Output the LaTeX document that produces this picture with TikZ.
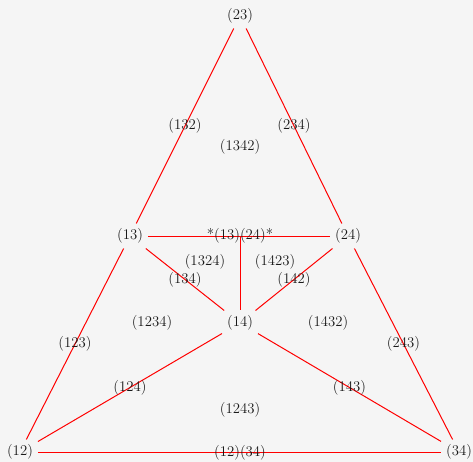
\documentclass[tikz,border=0pt]{standalone}
\usetikzlibrary{calc}
\definecolor{bgcol}{HTML}{F5F5F5}
\tikzset{
  perm/.style={font=\fontsize{14.8}{17}\selectfont, inner sep=4.9pt, text=black!90},
  link/.style={draw=red, line width=1pt},
}
\begin{document}
\begin{tikzpicture}[x=1pt, y=-1pt]
  \fill[bgcol] (0,0) rectangle (473,462);
  \useasboundingbox (0,0) rectangle (473,462);

  % vertices: transpositions
  \node[perm] (t23) at (240,16) {(23)};
  \node[perm] (t13) at (130,236) {(13)};
  \node[perm] (t24) at (348,236) {(24)};
  \node[perm] (t14) at (240,323) {(14)};
  \node[perm] (t12) at (20,452) {(12)};
  \node[perm] (t34) at (459,452) {(34)};
  \coordinate (mid) at (240,236);

  % edges
  \draw[link] (t23) -- (t13);
  \draw[link] (t23) -- (t24);
  \draw[link] (t13) -- (t24);
  \draw[link] (mid) -- (t14);
  \draw[link] (t13) -- (t14);
  \draw[link] (t24) -- (t14);
  \draw[link] (t13) -- (t12);
  \draw[link] (t24) -- (t34);
  \draw[link] (t14) -- (t12);
  \draw[link] (t14) -- (t34);
  \draw[link] (t12) -- (t34);

  % edge labels: 3-cycles
  \node[perm] (c132) at ($(t23)!0.5!(t13)$) {(132)};
  \node[perm] (c234) at ($(t23)!0.5!(t24)$) {(234)};
  \node[perm] (c134) at ($(t13)!0.5!(t14)$) {(134)};
  \node[perm] (c142) at ($(t24)!0.5!(t14)$) {(142)};
  \node[perm] (c123) at ($(t13)!0.5!(t12)$) {(123)};
  \node[perm] (c243) at ($(t24)!0.5!(t34)$) {(243)};
  \node[perm] (c124) at ($(t14)!0.5!(t12)$) {(124)};
  \node[perm] (c143) at ($(t14)!0.5!(t34)$) {(143)};
  \node[perm] (d1324) at (240,236) {*(13)(24)*};
  \node[perm] (d1234) at (240,453) {(12)(34)};

  % face labels: 4-cycles
  \node[perm] (f1342) at (240,147) {(1342)};
  \node[perm] (f1324) at (205,262) {(1324)};
  \node[perm] (f1423) at (275,262) {(1423)};
  \node[perm] (f1234) at (152,323) {(1234)};
  \node[perm] (f1432) at (328,323) {(1432)};
  \node[perm] (f1243) at (240,410) {(1243)};
\end{tikzpicture}
\end{document}
